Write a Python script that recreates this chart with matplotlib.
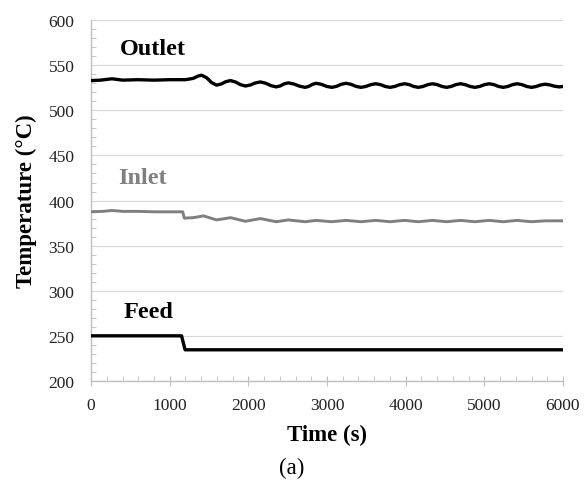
import matplotlib.pyplot as plt
from matplotlib.ticker import MultipleLocator

# outlet temperature (degC) vs time (s)
outlet_t = [0, 120, 266, 400, 600, 800, 1000, 1200, 1300, 1360, 1405, 1468, 1532,
            1595, 1654, 1713, 1772, 1835, 1899, 1962, 2025, 2089, 2152, 2219, 2287,
            2354, 2405, 2455, 2506, 2578, 2650, 2722, 2768, 2815, 2861, 2927, 2994,
            3060, 3120, 3181, 3241, 3304, 3367, 3430, 3493, 3557, 3620, 3680, 3740,
            3800, 3862, 3925, 3987, 4045, 4102, 4160, 4221, 4281, 4342, 4401, 4461,
            4520, 4579, 4637, 4696, 4757, 4819, 4880, 4941, 5002, 5063, 5122, 5181,
            5240, 5299, 5359, 5418, 5479, 5539, 5600, 5657, 5715, 5772, 5831, 5891,
            5950, 6000]
outlet_T = [533, 533.5, 535, 533.5, 534, 533.5, 534, 534, 535.5, 538, 539, 536.2, 530.8,
            528, 529.2, 531.8, 533, 531.5, 528.5, 527, 528.1, 530.4, 531.5, 530.1, 527.4,
            526, 527.1, 529.4, 530.5, 529.2, 526.8, 525.5, 526.6, 528.9, 530, 528.9, 526.6,
            525.5, 526.6, 528.9, 530, 528.9, 526.6, 525.5, 526.5, 528.5, 529.5, 528.5, 526.5,
            525.5, 526.5, 528.5, 529.5, 528.5, 526.5, 525.5, 526.5, 528.5, 529.5, 528.5, 526.5,
            525.5, 526.5, 528.5, 529.5, 528.5, 526.5, 525.5, 526.5, 528.5, 529.5, 528.5, 526.5,
            525.5, 526.5, 528.5, 529.5, 528.5, 526.5, 525.5, 526.4, 528.1, 529, 528.2, 526.8,
            526, 526.5]

# inlet temperature
inlet_t = [0, 150, 266, 400, 600, 800, 1000, 1165, 1185, 1300, 1430, 1595, 1772, 1962,
           2152, 2354, 2506, 2722, 2861, 3060, 3241, 3430, 3620, 3800, 3987, 4160,
           4342, 4520, 4696, 4880, 5063, 5240, 5418, 5600, 5772, 6000]
inlet_T = [387.5, 388, 389, 388, 388, 387.5, 387.5, 387.5, 380.5, 381, 383, 378.5, 381, 377,
           380, 376.5, 378.5, 376.5, 378, 376.5, 378, 376.5, 378, 376.5, 378, 376.5,
           378, 376.5, 378, 376.5, 378, 376.5, 378, 376.5, 377.5, 377.5]

# feed temperature
feed_t = [0, 1150, 1195, 6000]
feed_T = [250, 250, 234.5, 234.5]

plt.rcParams['font.family'] = ['Liberation Serif', 'DejaVu Serif']

fig = plt.figure(figsize=(5.84, 4.81), dpi=100)
ax = fig.add_axes([0.156, 0.206, 0.808, 0.75])

ax.plot(outlet_t, outlet_T, color='black', lw=2.4, solid_joinstyle='round', zorder=3)
ax.plot(inlet_t, inlet_T, color='#7f7f7f', lw=2.1, solid_joinstyle='round', zorder=3)
ax.plot(feed_t, feed_T, color='black', lw=2.4, zorder=3)

ax.text(369, 569, 'Outlet', fontsize=17.5, fontweight='bold', color='black', va='center')
ax.text(350, 425, 'Inlet', fontsize=17.5, fontweight='bold', color='#7f7f7f', va='center')
ax.text(410, 277, 'Feed', fontsize=17.5, fontweight='bold', color='black', va='center')

ax.set_xlim(0, 6000)
ax.set_ylim(200, 600)
ax.xaxis.set_major_locator(MultipleLocator(1000))
ax.xaxis.set_minor_locator(MultipleLocator(200))
ax.yaxis.set_major_locator(MultipleLocator(50))
ax.yaxis.set_minor_locator(MultipleLocator(10))

ax.grid(axis='y', color='#d9d9d9', lw=0.9)
ax.set_axisbelow(True)
for s in ['top', 'right']:
    ax.spines[s].set_visible(False)
for s in ['left', 'bottom']:
    ax.spines[s].set_color('#bfbfbf')
    ax.spines[s].set_linewidth(1.0)

ax.tick_params(axis='x', which='major', direction='inout', length=7, color='#bfbfbf',
               labelsize=12.5, pad=8, labelcolor='#222222')
ax.tick_params(axis='x', which='minor', direction='in', length=3.5, color='#bfbfbf')
ax.tick_params(axis='y', which='major', direction='in', length=0, labelsize=12.5, pad=12,
               labelcolor='#222222')
ax.tick_params(axis='y', which='minor', direction='in', length=3.5, color='#bfbfbf')

ax.set_xlabel('Time (s)', fontsize=16.5, fontweight='bold', labelpad=8)
ax.set_ylabel('Temperature (\u00b0C)', fontsize=16.5, fontweight='bold', labelpad=8)
fig.text(0.5, 0.027, '(a)', fontsize=16.5, ha='center', va='center')

fig.savefig('out.png', dpi=100)
